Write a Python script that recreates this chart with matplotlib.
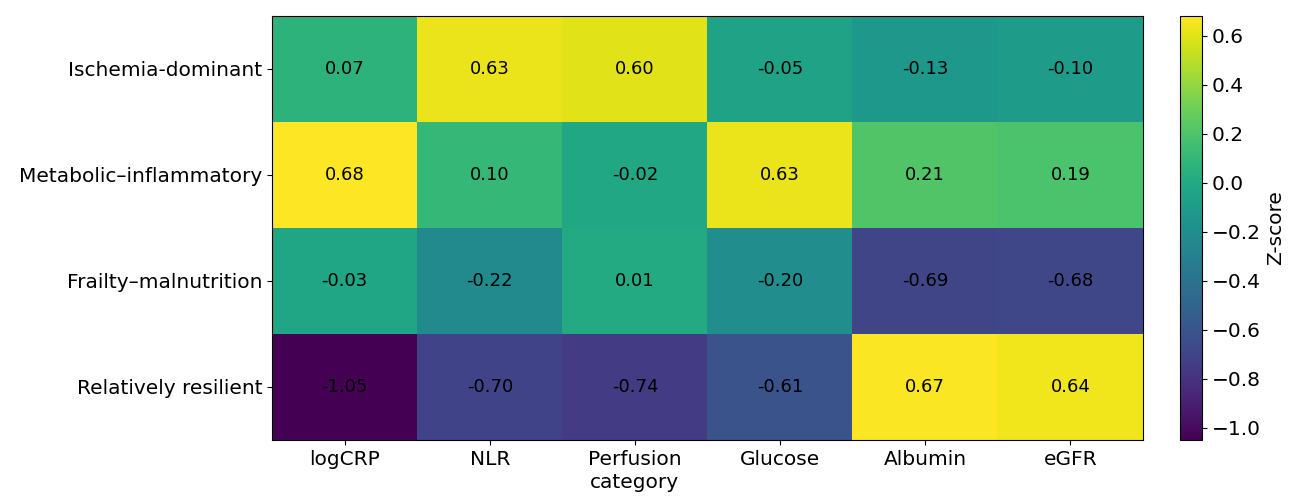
import matplotlib
matplotlib.use('Agg')
import matplotlib.pyplot as plt
import numpy as np

clusters = ['Ischemia-dominant', 'Metabolic\u2013inflammatory', 'Frailty\u2013malnutrition', 'Relatively resilient']
markers = ['logCRP', 'NLR', 'Perfusion\ncategory', 'Glucose', 'Albumin', 'eGFR']

ischemia = [0.07, 0.63, 0.60, -0.05, -0.13, -0.10]
metabolic = [0.68, 0.10, -0.02, 0.63, 0.21, 0.19]
frailty = [-0.03, -0.22, 0.01, -0.20, -0.69, -0.68]
resilient = [-1.05, -0.70, -0.74, -0.61, 0.67, 0.64]


def main():
    z = np.array([ischemia, metabolic, frailty, resilient])

    W, H = 1294, 497
    fig = plt.figure(figsize=(W / 100, H / 100), dpi=100)
    ax = fig.add_axes([272 / W, 1 - 440 / H, (1143 - 272) / W, (440 - 16) / H])
    cax = fig.add_axes([1180 / W, 1 - 440 / H, (1202 - 1180) / W, (440 - 16) / H])

    im = ax.imshow(z, cmap='viridis', aspect='auto')

    ax.set_xticks(np.arange(len(markers)))
    ax.set_xticklabels(markers, fontsize=14.5, linespacing=1.3)
    ax.set_yticks(np.arange(len(clusters)))
    ax.set_yticklabels(clusters, fontsize=14.5)

    for i in range(z.shape[0]):
        for j in range(z.shape[1]):
            ax.text(j, i, f'{z[i, j]:.2f}', ha='center', va='center',
                    color='black', fontsize=13)

    cb = fig.colorbar(im, cax=cax)
    cb.set_ticks(np.arange(-1.0, 0.61, 0.2))
    cb.ax.tick_params(labelsize=14.5)
    cb.set_label('Z-score', fontsize=14.5)

    fig.savefig('out.png', dpi=100)


if __name__ == "__main__":
    main()
